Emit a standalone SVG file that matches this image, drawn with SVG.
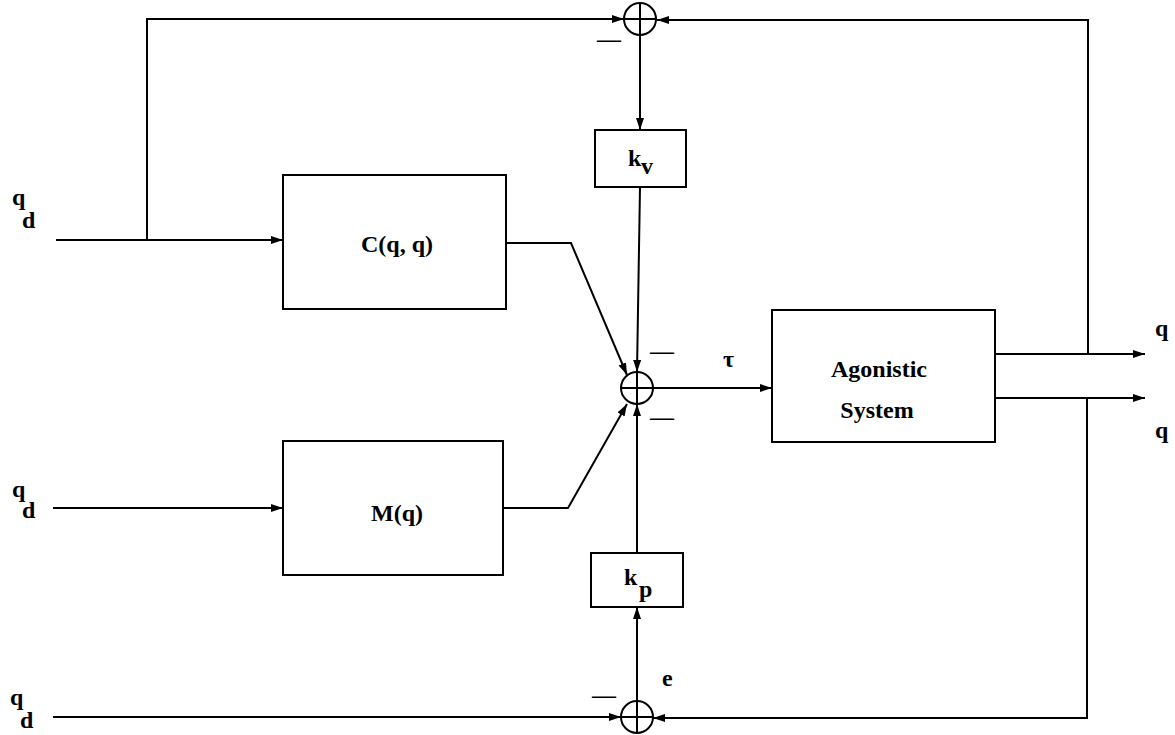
<svg xmlns="http://www.w3.org/2000/svg" width="1175" height="735" viewBox="0 0 1175 735">
<style>
  .box { fill: #fff; stroke: #000; stroke-width: 2; }
  .sum { fill: none; stroke: #000; stroke-width: 2; }
  .wire { fill: none; stroke: #000; stroke-width: 2; }
  .lbl { font-family: "Liberation Serif", "Times New Roman", serif; font-weight: bold; font-size: 24px; fill: #000; }
  .sym { font-family: "Liberation Serif", "Times New Roman", serif; font-weight: bold; font-size: 24px; fill: #000; }
  .sub { font-family: "Liberation Serif", "Times New Roman", serif; font-weight: bold; font-size: 24px; fill: #000; }
  .neg { font-family: "Liberation Serif", "Times New Roman", serif; font-weight: bold; font-size: 24px; fill: #000; }
</style>
<defs>
  <marker id="arr" viewBox="0 0 12 8" refX="12" refY="4" markerWidth="12" markerHeight="8" markerUnits="userSpaceOnUse" orient="auto">
    <path d="M0,0 L12,4 L0,8 z" fill="#000"/>
  </marker>
</defs>
<rect width="1175" height="735" fill="#fff"/>

<g id="connectors">
  <path class="wire" d="M56 240 H283" marker-end="url(#arr)"/>
  <path class="wire" d="M147 240 V19 H624" marker-end="url(#arr)"/>
  <path class="wire" d="M1088 354 V20 H657" marker-end="url(#arr)"/>
  <path class="wire" d="M640 35 V130" marker-end="url(#arr)"/>
  <path class="wire" d="M640 187 L637 372" marker-end="url(#arr)"/>
  <path class="wire" d="M506 243 H571 L627 375" marker-end="url(#arr)"/>
  <path class="wire" d="M53 508 H283" marker-end="url(#arr)"/>
  <path class="wire" d="M503 508 H568 L627 404" marker-end="url(#arr)"/>
  <path class="wire" d="M653 388 H772" marker-end="url(#arr)"/>
  <path class="wire" d="M995 354 H1145" marker-end="url(#arr)"/>
  <path class="wire" d="M995 398 H1145" marker-end="url(#arr)"/>
  <path class="wire" d="M1087 398 V718 H653" marker-end="url(#arr)"/>
  <path class="wire" d="M53 717 H621" marker-end="url(#arr)"/>
  <path class="wire" d="M637 701 V607" marker-end="url(#arr)"/>
  <path class="wire" d="M637 553 V404" marker-end="url(#arr)"/>
</g>

<g id="sum-top">
  <circle class="sum" cx="640" cy="19" r="16"/>
  <path class="wire" d="M624 19 H656 M640 3 V35"/>
  <text class="neg" x="597" y="47">—</text>
</g>

<g id="sum-center">
  <circle class="sum" cx="637" cy="388" r="16"/>
  <path class="wire" d="M621 388 H653 M637 372 V404"/>
  <text class="neg" x="650" y="359">—</text>
  <text class="neg" x="650" y="425">—</text>
</g>

<g id="sum-bottom">
  <circle class="sum" cx="637" cy="717" r="16"/>
  <path class="wire" d="M621 717 H653 M637 701 V733"/>
  <text class="neg" x="592" y="703">—</text>
</g>

<g id="block-C">
  <rect class="box" x="283" y="175" width="223" height="134"/>
  <text class="lbl" x="397" y="252" text-anchor="middle">C(q, q)</text>
</g>

<g id="block-M">
  <rect class="box" x="283" y="441" width="220" height="134"/>
  <text class="lbl" x="397" y="521" text-anchor="middle">M(q)</text>
</g>

<g id="block-kv">
  <rect class="box" x="595" y="130" width="91" height="57"/>
  <text class="sym" x="628" y="166">k</text>
  <text class="sub" x="641" y="174">v</text>
</g>

<g id="block-kp">
  <rect class="box" x="591" y="553" width="92" height="54"/>
  <text class="sym" x="624" y="585">k</text>
  <text class="sub" x="639" y="597">p</text>
</g>

<g id="block-agonistic">
  <rect class="box" x="772" y="310" width="223" height="132"/>
  <text class="lbl" x="879" y="377" text-anchor="middle">Agonistic</text>
  <text class="lbl" x="877" y="418" text-anchor="middle">System</text>
</g>

<g id="labels">
  <text class="sym" x="12" y="205">q</text>
  <text class="sub" x="22" y="228">d</text>
  <text class="sym" x="12" y="497">q</text>
  <text class="sub" x="22" y="518">d</text>
  <text class="sym" x="10" y="705">q</text>
  <text class="sub" x="20" y="728">d</text>
  <text class="sym" x="1155" y="336">q</text>
  <text class="sym" x="1155" y="438">q</text>
  <text class="sym" x="723" y="367">τ</text>
  <text class="sym" x="662" y="686">e</text>
</g>
</svg>
